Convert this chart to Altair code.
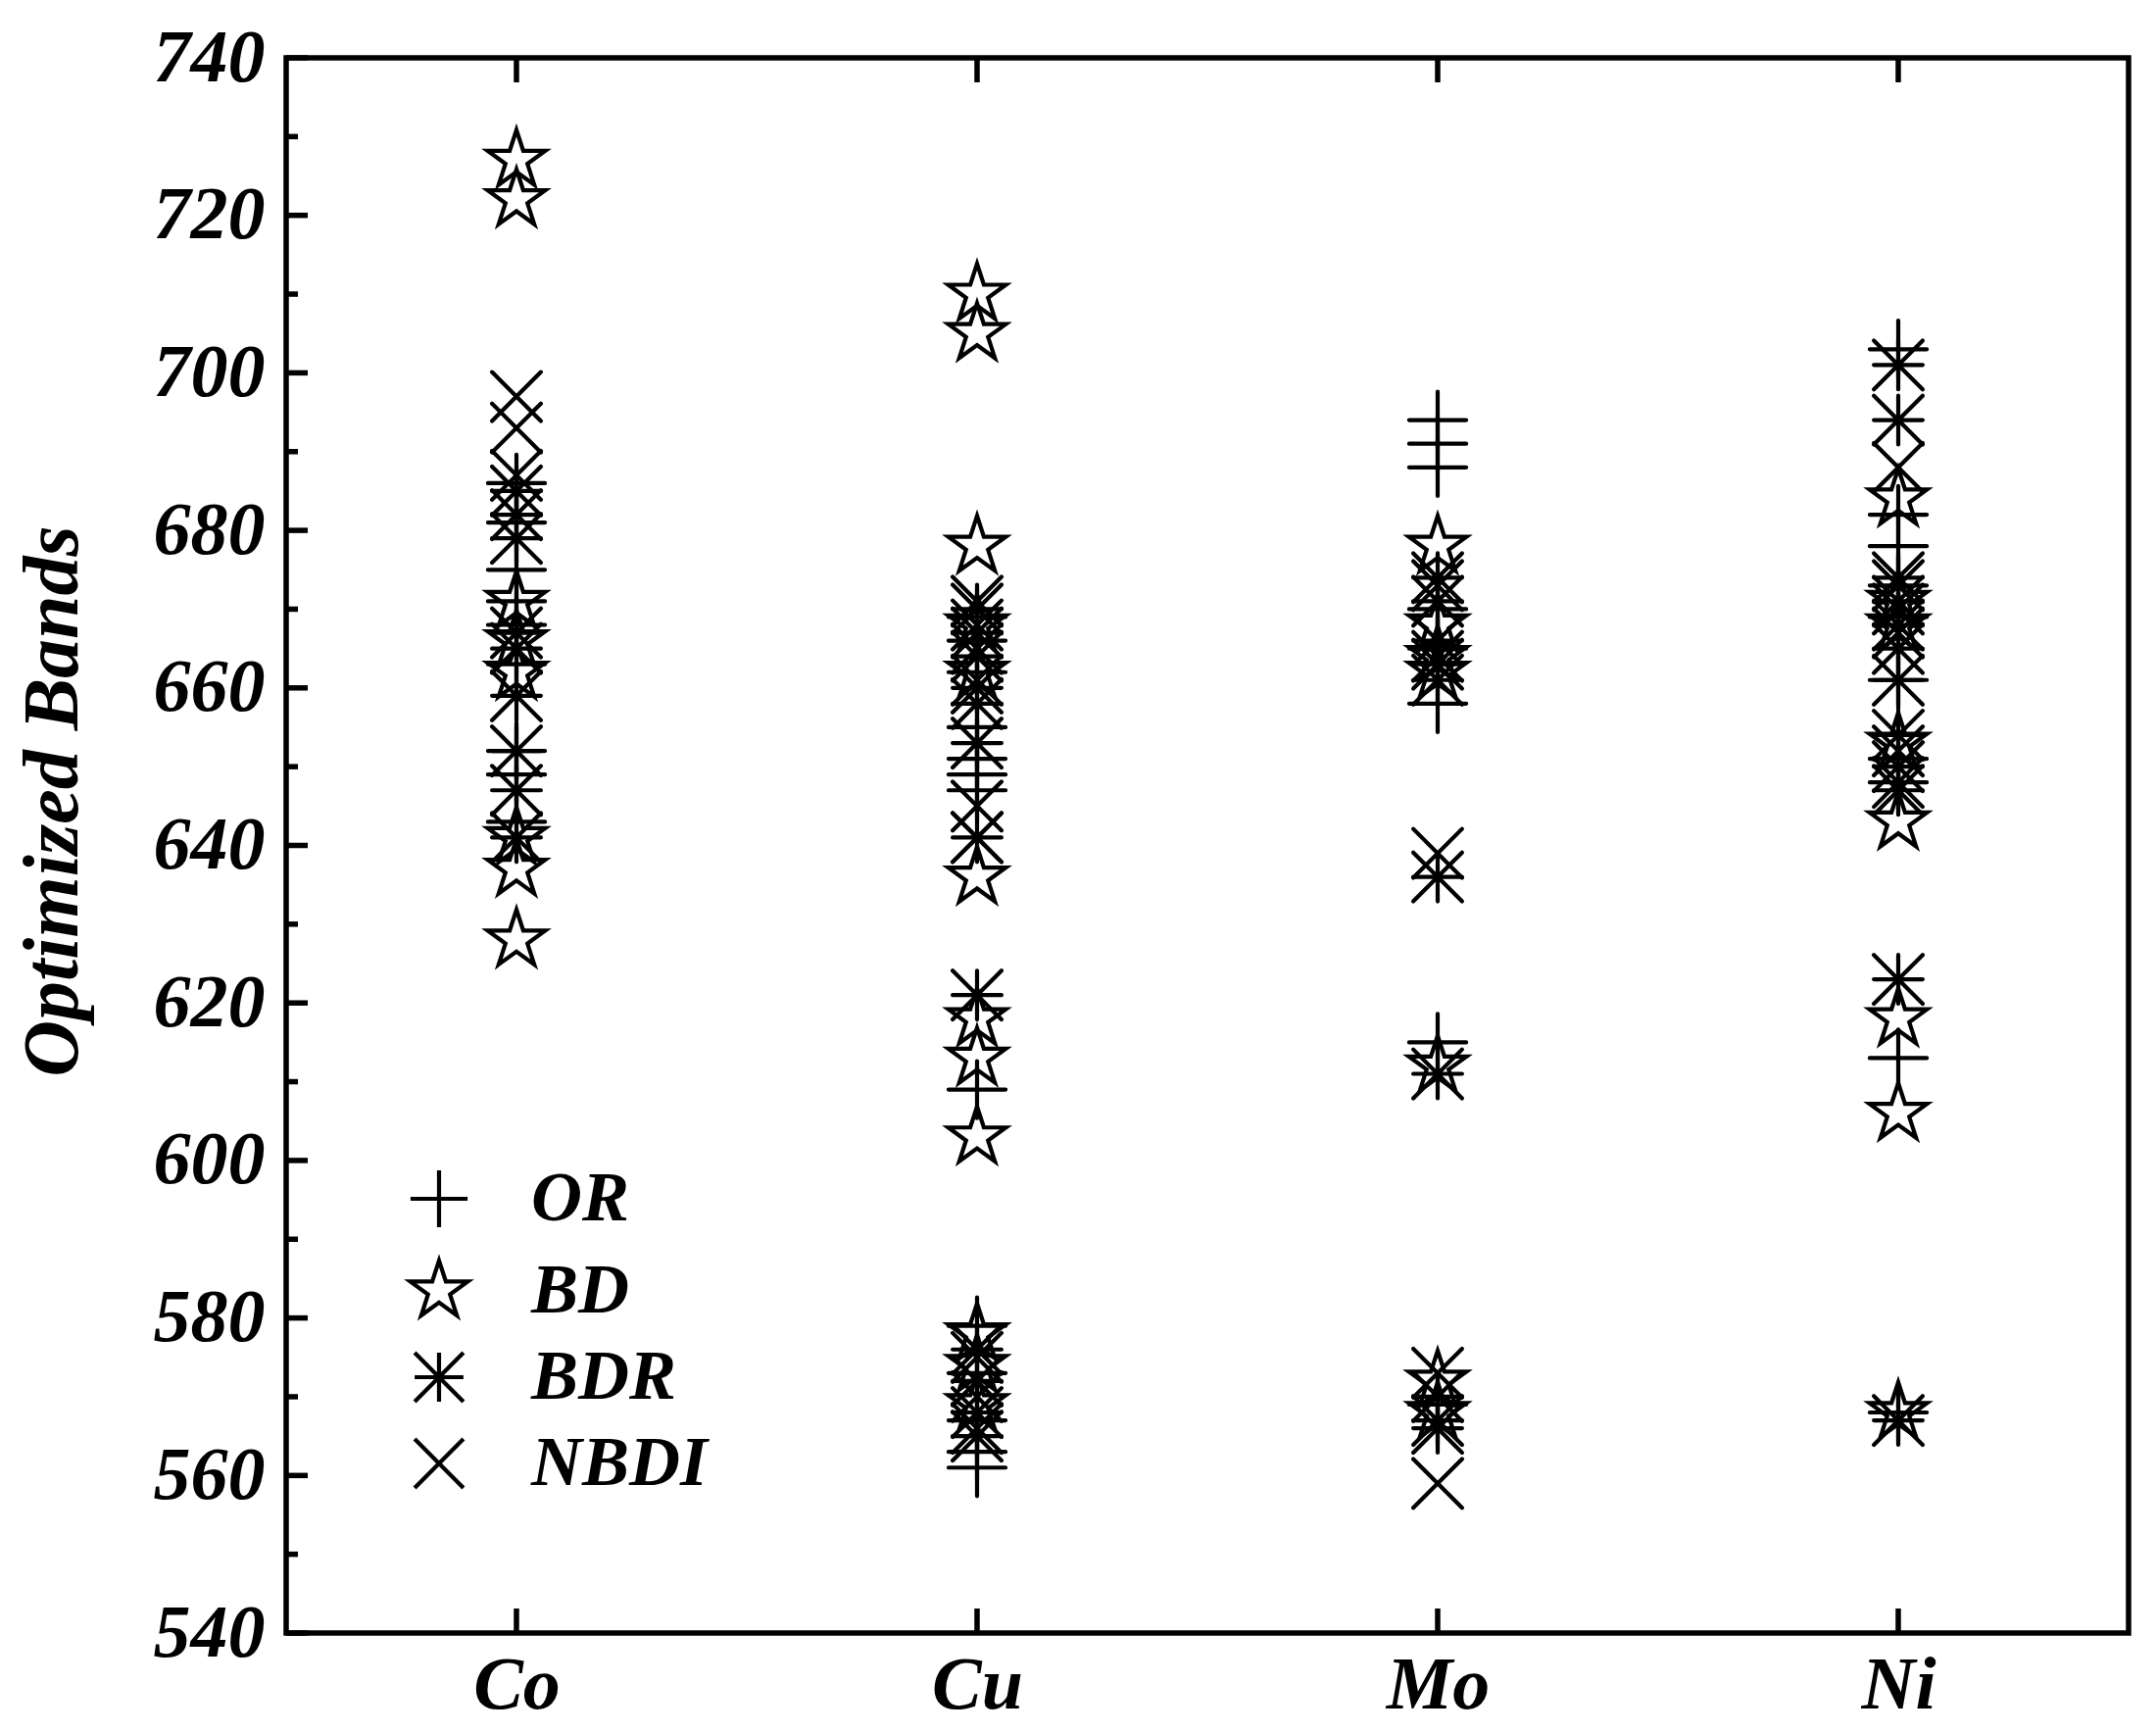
import math
import altair as alt
import pandas as pd

# ---------------- data ----------------
elements = ["Co", "Cu", "Mo", "Ni"]
methods = ["OR", "BD", "BDR", "NBDI"]

co_or = [686, 681, 675, 671, 668, 663, 652, 649, 643]
co_bd = [727, 722, 671, 666, 662, 641, 637, 628]
co_bdr = [685, 682, 679, 667, 665, 659, 652, 647, 641]
co_nbdi = [697, 693, 687]

cu_or = [669, 666, 662, 655, 651, 649, 647, 609, 579, 573, 567, 563, 561]
cu_bd = [710, 705, 678, 668, 662, 636, 618, 613, 603, 578, 574, 569]
cu_bdr = [670, 667, 664, 660, 658, 653, 641, 621, 576, 572, 568, 565]
cu_nbdi = [671, 668, 665, 661, 645, 641, 575, 570, 566]

mo_or = [694, 691, 688, 670, 665, 658, 615, 569]
mo_bd = [678, 668, 664, 662, 612, 572, 568]
mo_bdr = [674, 671, 666, 663, 661, 636, 611, 570, 567, 566]
mo_nbdi = [673, 664, 639, 573, 559]

ni_or = [703, 682, 678, 673, 669, 661, 651, 648, 613, 568]
ni_bd = [684, 671, 668, 653, 643, 618, 606, 568]
ni_bdr = [701, 694, 674, 671, 668, 665, 661, 654, 650, 647, 623, 567]
ni_nbdi = [688, 673, 670, 667, 652, 648]

y_major = list(range(540, 741, 20))
y_minor = list(range(550, 731, 20))

series = {
    ("Co", "OR"): co_or, ("Co", "BD"): co_bd, ("Co", "BDR"): co_bdr, ("Co", "NBDI"): co_nbdi,
    ("Cu", "OR"): cu_or, ("Cu", "BD"): cu_bd, ("Cu", "BDR"): cu_bdr, ("Cu", "NBDI"): cu_nbdi,
    ("Mo", "OR"): mo_or, ("Mo", "BD"): mo_bd, ("Mo", "BDR"): mo_bdr, ("Mo", "NBDI"): mo_nbdi,
    ("Ni", "OR"): ni_or, ("Ni", "BD"): ni_bd, ("Ni", "BDR"): ni_bdr, ("Ni", "NBDI"): ni_nbdi,
}

rows = []
for m_i, m in enumerate(methods):
    for el in elements:
        for v in series[(el, m)]:
            rows.append({"Element": el, "Method": m, "Bands": v, "order": m_i})
df = pd.DataFrame(rows)

# ---------------- marker shapes (unit square -1..1) ----------------
def star_path(R=1.03, ratio=0.382):
    pts = []
    for k in range(10):
        a = math.radians(-90 + 36 * k)
        r = R if k % 2 == 0 else R * ratio
        pts.append((r * math.cos(a), r * math.sin(a)))
    return "M" + "L".join(f"{x:.4f},{y:.4f}" for x, y in pts) + "Z"

plus_path = "M-0.97,0L0.97,0M0,-0.97L0,0.97"
x_path = "M-0.83,-0.83L0.83,0.83M-0.83,0.83L0.83,-0.83"
ast_path = ("M-0.83,-0.83L0.83,0.83M-0.83,0.83L0.83,-0.83"
            "M-0.83,0L0.83,0M0,-0.83L0,0.83")
shapes = [plus_path, star_path(), ast_path, x_path]

W, H = 1880, 1607
FONT = "Liberation Serif"
AXW = 5.5

yscale = alt.Scale(domain=[540, 740], nice=False, zero=False)
xscale = alt.Scale(type="point", domain=elements, padding=0.5)

points = alt.Chart(df).mark_point(
    filled=False, size=3600, strokeWidth=4.2, color="black", opacity=1,
    strokeCap="round", strokeJoin="miter"
).encode(
    x=alt.X("Element:N", scale=xscale, sort=elements,
            axis=alt.Axis(title=None, labelAngle=0, ticks=False, domain=False,
                          labelFont=FONT, labelFontSize=76, labelFontWeight="bold",
                          labelFontStyle="italic", labelColor="black", labelPadding=16)),
    y=alt.Y("Bands:Q", scale=yscale,
            axis=alt.Axis(title="Optimized Bands", values=y_major, ticks=False, domain=False,
                          grid=False, labelFont=FONT, labelFontSize=76, labelFontWeight="bold",
                          labelFontStyle="italic", labelColor="black", labelPadding=22,
                          labelBaseline="middle",
                          titleFont=FONT, titleFontSize=80, titleFontWeight="bold",
                          titleFontStyle="italic", titleColor="black",
                          titleX=-238, titleY=758, titleAngle=-90,
                          titleBaseline="middle", titleAlign="center")),
    shape=alt.Shape("Method:N", scale=alt.Scale(domain=methods, range=shapes),
                    legend=alt.Legend(title=None, orient="none", legendX=120, legendY=1128,
                                      symbolSize=3600, symbolStrokeWidth=4.2,
                                      symbolStrokeColor="black", symbolFillColor="transparent",
                                      labelFont=FONT, labelFontSize=72, labelFontWeight="bold",
                                      labelFontStyle="italic", labelColor="black",
                                      labelLimit=600,
                                      labelOffset=58, rowPadding=16, symbolType="circle")),
    order=alt.Order("order:Q"),
)

maj_df = pd.DataFrame({"v": y_major})
min_df = pd.DataFrame({"v": y_minor})
cat_df = pd.DataFrame({"Element": elements})

maj_ticks = alt.Chart(maj_df).mark_rule(color="black", strokeWidth=AXW).encode(
    y=alt.Y("v:Q", scale=yscale), x=alt.value(0), x2=alt.value(22))
min_ticks = alt.Chart(min_df).mark_rule(color="black", strokeWidth=AXW).encode(
    y=alt.Y("v:Q", scale=yscale), x=alt.value(0), x2=alt.value(12))
bot_ticks = alt.Chart(cat_df).mark_rule(color="black", strokeWidth=AXW).encode(
    x=alt.X("Element:N", scale=xscale, sort=elements), y=alt.value(H), y2=alt.value(H - 25))
top_ticks = alt.Chart(cat_df).mark_rule(color="black", strokeWidth=AXW).encode(
    x=alt.X("Element:N", scale=xscale, sort=elements), y=alt.value(0), y2=alt.value(25))

chart = alt.layer(points, maj_ticks, min_ticks, bot_ticks, top_ticks).properties(
    width=W, height=H,
    background="white",
    autosize=alt.AutoSizeParams(type="none"),
    padding={"left": 284, "top": 51, "right": 20, "bottom": 100},
).configure_view(
    stroke="black", strokeWidth=AXW
)

chart.save("out.html", embed_options={"renderer": "svg", "actions": False})
